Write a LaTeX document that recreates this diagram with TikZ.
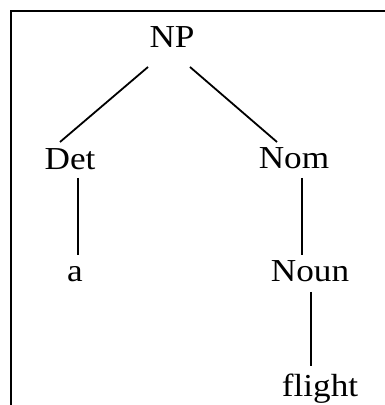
\documentclass[tikz,border=0pt]{standalone}
\usepackage{fontspec}
\setmainfont{Liberation Serif}[FakeStretch=1.1]
\usetikzlibrary{calc}
\begin{document}
\begin{tikzpicture}[x=1pt,y=1pt,
  cat/.style={anchor=base,inner sep=0pt,font=\fontsize{32}{36}\selectfont},
  branch/.style={line width=1.8pt},
  frame/.style={line width=2.6pt}]
\useasboundingbox (0,0) rectangle (385,405);
% open frame: top and left edges only
\draw[frame] (385,394) -- (11,394) -- (11,0);
% tree labels, placed by their baselines
\node[cat] (NP)   at (172,357) {NP};
\node[cat] (Det)  at (70,235)  {Det};
\node[cat] (Nom)  at (294,236) {Nom};
\node[cat] (a)    at (75,123)  {a};
\node[cat] (Noun) at (310,123) {Noun};
\node[cat] (fl)   at (320,9)   {flight};
% branches
\draw[branch] ($(NP.base)+(-24,-19)$) -- ($(Det.base)+(-10,28)$);
\draw[branch] ($(NP.base)+(18,-19)$)  -- ($(Nom.base)+(-17,27)$);
\draw[branch] ($(Det.base)+(8,-8)$)   -- ($(a.base)+(3,27)$);
\draw[branch] ($(Nom.base)+(8,-9)$)   -- ($(Noun.base)+(-8,27)$);
\draw[branch] ($(Noun.base)+(1,-10)$) -- ($(fl.base)+(-9,30)$);
\end{tikzpicture}
\end{document}
